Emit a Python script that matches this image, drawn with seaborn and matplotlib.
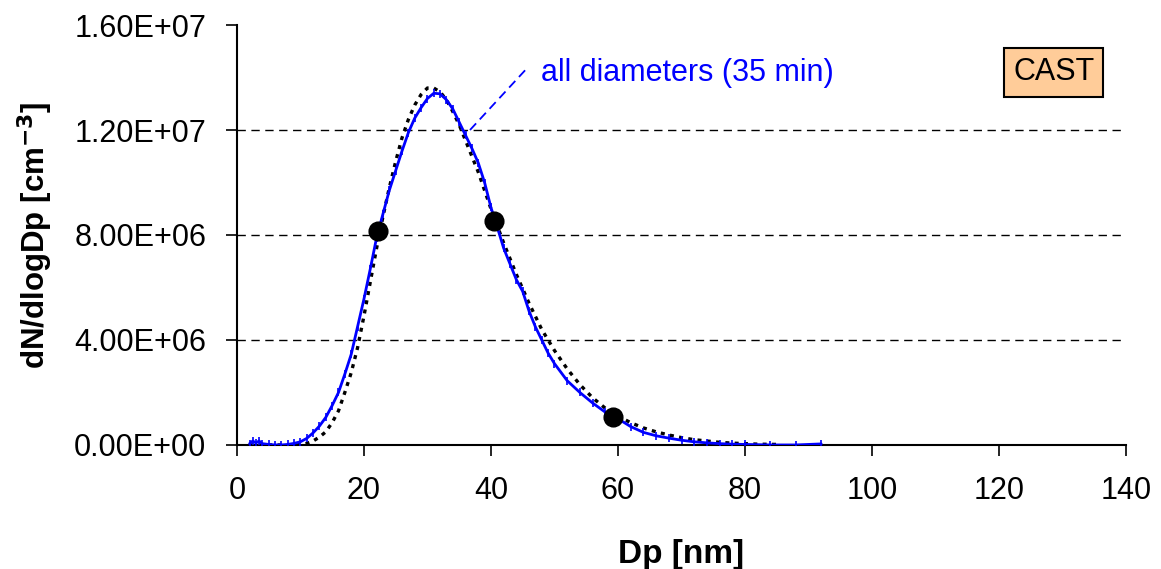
import numpy as np
import pandas as pd
import matplotlib
matplotlib.use("Agg")
import matplotlib.pyplot as plt
import seaborn as sns
from matplotlib.ticker import FuncFormatter

# Measured size distribution (all diameters, 35 min)
meas_dp = [2, 2.5, 3, 3.5, 4, 5, 6, 7, 8, 9, 10, 11, 12, 13, 14, 15, 16, 17, 18, 19,
           20, 21, 22, 23, 24, 25, 26, 27, 28, 29, 30, 31, 32, 33, 34, 35, 36, 37, 38,
           39, 40, 41, 42, 43, 44, 45, 46, 47, 48, 49, 50, 52, 54, 56, 58, 60, 62, 64,
           66, 68, 70, 72, 74, 76, 78, 80, 84, 88, 92]
meas_n = [0.05, 0.15, 0.08, 0.15, 0.05, 0.02, 0.0, 0.0, 0.02, 0.06, 0.12, 0.25, 0.46,
          0.72, 1.05, 1.5, 2.0, 2.7, 3.45, 4.5, 5.55, 6.7, 7.9, 8.8, 9.7, 10.45, 11.2,
          11.9, 12.45, 12.85, 13.2, 13.4, 13.38, 13.15, 12.8, 12.3, 11.8, 11.3, 10.75,
          10.0, 9.05, 8.3, 7.5, 6.9, 6.3, 5.85, 5.1, 4.5, 4.0, 3.5, 3.1, 2.45, 2.0, 1.6,
          1.25, 1.0, 0.7, 0.48, 0.35, 0.26, 0.18, 0.12, 0.08, 0.05, 0.03, 0.02, 0.0, 0.0,
          0.04]

# Fitted distribution (dotted)
fit_dp = [2, 4, 6, 8, 10, 11, 12, 13, 14, 15, 16, 17, 18, 19, 20, 21, 22, 23, 24, 25,
          26, 27, 28, 29, 30, 31, 32, 33, 34, 35, 36, 37, 38, 39, 40, 42, 44, 46, 48, 50,
          52, 54, 56, 58, 60, 62, 64, 66, 68, 70, 72, 74, 76, 78, 80, 82, 85]
fit_n = [0.0, 0.0, 0.0, 0.0, 0.02, 0.06, 0.15, 0.3, 0.5, 0.85, 1.3, 2.0, 2.75, 3.7, 4.9,
         6.2, 7.5, 8.7, 9.8, 10.8, 11.7, 12.4, 12.95, 13.35, 13.6, 13.6, 13.45, 13.15,
         12.7, 12.2, 11.6, 11.0, 10.4, 9.7, 9.0, 7.7, 6.5, 5.4, 4.4, 3.6, 2.9, 2.3, 1.8,
         1.4, 1.1, 0.85, 0.65, 0.5, 0.38, 0.28, 0.2, 0.15, 0.1, 0.07, 0.05, 0.03, 0.02]

# Selected diameters (black dots)
sel_dp = [22.2, 40.5, 59.2]
sel_n = [8.15, 8.53, 1.07]

x_ticks = [0, 20, 40, 60, 80, 100, 120, 140]
y_ticks = [0, 4e6, 8e6, 1.2e7, 1.6e7]

sns.set_theme(style="white")
plt.rcParams['font.family'] = ['Liberation Sans', 'DejaVu Sans']
plt.rcParams['text.color'] = 'black'
plt.rcParams['axes.labelcolor'] = 'black'

meas = pd.DataFrame({"Dp": meas_dp, "N": np.array(meas_n) * 1e6})
fit = pd.DataFrame({"Dp": fit_dp, "N": np.array(fit_n) * 1e6})
sel = pd.DataFrame({"Dp": sel_dp, "N": np.array(sel_n) * 1e6})

fig = plt.figure(figsize=(11.61, 5.69), dpi=100)
ax = fig.add_axes([0.204, 0.218, 0.766, 0.738])

for y in y_ticks[1:-1]:
    ax.axhline(y, color='black', lw=1.0, ls=(0, (6, 4)), zorder=1)

sns.lineplot(data=fit, x="Dp", y="N", ax=ax, color='black', lw=2.4,
             linestyle=(0, (1.2, 1.6)), sort=False, estimator=None, zorder=2)
sns.lineplot(data=meas, x="Dp", y="N", ax=ax, color='#0000FF', lw=2.0,
             marker='|', markersize=6, markeredgewidth=1.2,
             markeredgecolor='#0000FF', sort=False, estimator=None, zorder=3)
sns.scatterplot(data=sel, x="Dp", y="N", ax=ax, color='black', s=180,
                edgecolor='black', zorder=4)

ax.plot([36.7, 45.7], [12.0e6, 14.36e6], color='#0000FF', lw=1.3,
        ls=(0, (5, 3)), zorder=3)
ax.text(47.9, 14.17e6, "all diameters (35 min)", color='#0000FF', fontsize=22,
        va='center', ha='left')

ax.text(0.9185, 0.887, "CAST", transform=ax.transAxes, fontsize=22, ha='center',
        va='center', color='black',
        bbox=dict(boxstyle='square,pad=0.3', facecolor='#FFCC99',
                  edgecolor='black', lw=1.5))

ax.set_xlim(0, 140)
ax.set_ylim(0, 1.6e7)
ax.set_xticks(x_ticks)
ax.set_yticks(y_ticks)
ax.yaxis.set_major_formatter(FuncFormatter(lambda v, p: f"{v:.2E}"))
ax.tick_params(axis='both', which='major', direction='out', length=8, width=1.2,
               labelsize=22, colors='black', bottom=True, left=True)
ax.tick_params(axis='x', pad=14)
ax.tick_params(axis='y', pad=14)

for s in ['top', 'right']:
    ax.spines[s].set_visible(False)
for s in ['left', 'bottom']:
    ax.spines[s].set_color('black')
    ax.spines[s].set_linewidth(1.5)

ax.set_xlabel("Dp [nm]", fontsize=24, fontweight='bold', labelpad=24)
ax.set_ylabel("dN/dlogDp [cm$^{\\mathbf{-3}}$]", fontsize=22.5, fontweight='bold',
              labelpad=14)

fig.savefig("out.png", dpi=100, facecolor='white')
